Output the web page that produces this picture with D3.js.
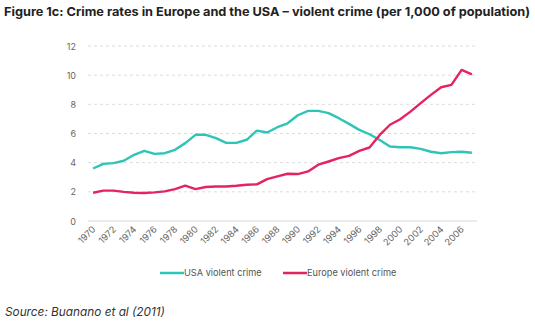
<!DOCTYPE html>
<html>
<head>
<meta charset="utf-8">
<script src="https://cdn.jsdelivr.net/npm/d3@7"></script>
<style>
  body { margin: 0; background: #fff; }
  svg { display: block; }
</style>
</head>
<body>
<svg id="chart" width="535" height="322"></svg>
<script>
  const years = d3.range(1970, 2008);
  const usaValues = [3.6, 3.92, 3.97, 4.13, 4.54, 4.81, 4.6, 4.65, 4.88, 5.34,
                     5.91, 5.91, 5.68, 5.36, 5.36, 5.57, 6.2, 6.07, 6.43, 6.7,
                     7.25, 7.55, 7.55, 7.4, 7.05, 6.66, 6.25, 5.95, 5.55, 5.11,
                     5.06, 5.06, 4.95, 4.75, 4.65, 4.72, 4.75, 4.68];
  const europeValues = [1.94, 2.08, 2.08, 2.0, 1.94, 1.92, 1.96, 2.03, 2.19, 2.42,
                        2.19, 2.33, 2.37, 2.37, 2.42, 2.49, 2.51, 2.87, 3.06, 3.24,
                        3.22, 3.4, 3.86, 4.08, 4.31, 4.47, 4.81, 5.04, 5.9, 6.6,
                        6.98, 7.5, 8.08, 8.65, 9.17, 9.33, 10.36, 10.06];
  const yTicks = [0, 2, 4, 6, 8, 10, 12];
  const xTickYears = d3.range(1970, 2008, 2);

  const series = [
    {name: 'USA violent crime', values: usaValues, color: '#2ec5b8'},
    {name: 'Europe violent crime', values: europeValues, color: '#e5235f'}
  ];

  const FONT = 'Inter, Roboto, sans-serif';
  const svg = d3.select('#chart');
  const plotLeft = 88, plotRight = 477, plotTop = 46, plotBottom = 221;

  const x = d3.scalePoint()
              .domain(years)
              .range([plotLeft, plotRight])
              .padding(0.5);
  const y = d3.scaleLinear()
              .domain([0, 12])
              .range([plotBottom, plotTop]);

  svg.append('text')
      .attr('x', 4)
      .attr('y', 16)
      .attr('font-family', FONT)
      .attr('font-weight', 'bold')
      .attr('font-size', 12.3)
      .attr('fill', '#222')
      .attr('textLength', 526)
      .attr('lengthAdjust', 'spacingAndGlyphs')
      .text('Figure 1c: Crime rates in Europe and the USA \u2013 violent crime (per 1,000 of population)');

  // grid lines
  svg.append('g')
      .selectAll('line')
      .data(yTicks.filter(d => d > 0))
      .enter()
      .append('line')
      .attr('x1', plotLeft)
      .attr('x2', plotRight)
      .attr('y1', d => y(d))
      .attr('y2', d => y(d))
      .attr('stroke', '#dcdcdc')
      .attr('stroke-dasharray', '3,3');

  svg.append('line')
      .attr('x1', plotLeft)
      .attr('x2', plotRight)
      .attr('y1', y(0))
      .attr('y2', y(0))
      .attr('stroke', '#d6d6d6');

  svg.append('g')
      .selectAll('text')
      .data(yTicks)
      .enter()
      .append('text')
      .attr('x', 76)
      .attr('y', d => y(d) + 3.5)
      .attr('text-anchor', 'end')
      .attr('font-family', FONT)
      .attr('font-size', 9)
      .attr('fill', '#666')
      .text(d => d);

  svg.append('g')
      .selectAll('text')
      .data(xTickYears)
      .enter()
      .append('text')
      .attr('transform', d => `translate(${x(d) + 3},${plotBottom + 9}) rotate(-45)`)
      .attr('text-anchor', 'end')
      .attr('font-family', FONT)
      .attr('font-size', 9.2)
      .attr('fill', '#666')
      .text(d => d);

  const line = d3.line()
                 .x((d, i) => x(years[i]))
                 .y(d => y(d));

  svg.append('g')
      .selectAll('path')
      .data(series)
      .enter()
      .append('path')
      .attr('d', d => line(d.values))
      .attr('fill', 'none')
      .attr('stroke', d => d.color)
      .attr('stroke-width', 2.4)
      .attr('stroke-linejoin', 'round');

  // legend
  const legendX = [160, 283];
  const legend = svg.append('g')
                    .selectAll('g')
                    .data(series)
                    .enter()
                    .append('g')
                    .attr('transform', (d, i) => `translate(${legendX[i]},273)`);
  legend.append('line')
      .attr('x1', 0)
      .attr('x2', 24)
      .attr('stroke', d => d.color)
      .attr('stroke-width', 2.5);
  legend.append('text')
      .attr('x', 24)
      .attr('y', 3.3)
      .attr('font-family', FONT)
      .attr('font-size', 9.2)
      .attr('fill', '#555')
      .text(d => d.name);

  svg.append('text')
      .attr('x', 5)
      .attr('y', 316)
      .attr('font-family', FONT)
      .attr('font-style', 'italic')
      .attr('font-size', 11.8)
      .attr('fill', '#333')
      .text('Source: Buanano et al (2011)');
</script>
</body>
</html>
